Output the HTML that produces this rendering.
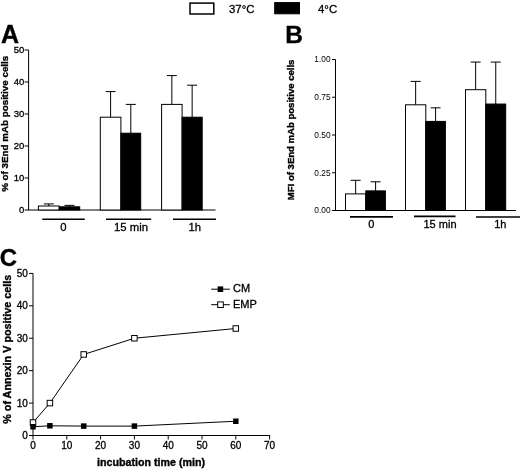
<!DOCTYPE html>
<html><head><meta charset="utf-8"><title>figure</title>
<style>
html,body{margin:0;padding:0;background:#fff;}
body{width:520px;height:469px;overflow:hidden;font-family:"Liberation Sans",sans-serif;}
svg{display:block;filter:blur(0.35px);font-family:"Liberation Sans",sans-serif;}
.b{stroke:#000;stroke-width:0.35px;}
text{fill:#000;}
.m{stroke:#000;stroke-width:0.3px;}
.b{font-weight:bold;}
</style></head><body>
<svg width="520" height="469" viewBox="0 0 520 469">
<rect x="0" y="0" width="520" height="469" fill="#fff"/>

<rect x="190" y="3.1" width="23.8" height="10.9" fill="#fff" stroke="#000" stroke-width="1.5"/>
<text x="229" y="13.3" class="m" font-size="11.4">37°C</text>
<rect x="274.7" y="2.6" width="24.8" height="11.2" fill="#000" stroke="#000" stroke-width="1"/>
<text x="318" y="13.2" class="m" font-size="11.4">4°C</text>
<text class="b" x="1" y="43" font-size="25">A</text>
<text class="b" x="285.2" y="43" font-size="24.5">B</text>
<text class="b" x="-0.3" y="266" font-size="24">C</text>
<line x1="28.6" y1="50.0" x2="28.6" y2="210.0" stroke="#000" stroke-width="1"/>
<line x1="28.1" y1="210.0" x2="215.5" y2="210.0" stroke="#000" stroke-width="1"/>
<line x1="24.6" y1="210.0" x2="28.6" y2="210.0" stroke="#000" stroke-width="1"/>
<text x="24.400000000000002" y="213.3" class="m" font-size="9.5" text-anchor="end">0</text>
<line x1="24.6" y1="178.0" x2="28.6" y2="178.0" stroke="#000" stroke-width="1"/>
<text x="24.400000000000002" y="181.3" class="m" font-size="9.5" text-anchor="end">10</text>
<line x1="24.6" y1="146.0" x2="28.6" y2="146.0" stroke="#000" stroke-width="1"/>
<text x="24.400000000000002" y="149.3" class="m" font-size="9.5" text-anchor="end">20</text>
<line x1="24.6" y1="114.0" x2="28.6" y2="114.0" stroke="#000" stroke-width="1"/>
<text x="24.400000000000002" y="117.3" class="m" font-size="9.5" text-anchor="end">30</text>
<line x1="24.6" y1="82.0" x2="28.6" y2="82.0" stroke="#000" stroke-width="1"/>
<text x="24.400000000000002" y="85.3" class="m" font-size="9.5" text-anchor="end">40</text>
<line x1="24.6" y1="50.0" x2="28.6" y2="50.0" stroke="#000" stroke-width="1"/>
<text x="24.400000000000002" y="53.3" class="m" font-size="9.5" text-anchor="end">50</text>
<text class="b" font-size="9.8" text-anchor="middle" transform="translate(8.2,123.8) rotate(-90)">% of 3End mAb positive cells</text>
<line x1="48.8" y1="203.92" x2="48.8" y2="206.0" stroke="#000" stroke-width="1"/><line x1="43.8" y1="203.92" x2="53.8" y2="203.92" stroke="#000" stroke-width="1"/>
<line x1="69.45" y1="205.36" x2="69.45" y2="206.8" stroke="#000" stroke-width="1"/><line x1="64.45" y1="205.36" x2="74.45" y2="205.36" stroke="#000" stroke-width="1"/>
<rect x="38.4" y="206.0" width="20.800000000000004" height="4.0" fill="#fff" stroke="#000" stroke-width="1"/>
<rect x="59.2" y="206.8" width="20.5" height="3.1999999999999886" fill="#000" stroke="#000" stroke-width="1"/>
<line x1="110.6" y1="91.6" x2="110.6" y2="117.19999999999999" stroke="#000" stroke-width="1"/><line x1="105.6" y1="91.6" x2="115.6" y2="91.6" stroke="#000" stroke-width="1"/>
<line x1="130.8" y1="104.39999999999999" x2="130.8" y2="133.2" stroke="#000" stroke-width="1"/><line x1="125.80000000000001" y1="104.39999999999999" x2="135.8" y2="104.39999999999999" stroke="#000" stroke-width="1"/>
<rect x="100.3" y="117.19999999999999" width="20.60000000000001" height="92.80000000000001" fill="#fff" stroke="#000" stroke-width="1"/>
<rect x="120.9" y="133.2" width="19.799999999999983" height="76.80000000000001" fill="#000" stroke="#000" stroke-width="1"/>
<line x1="171.85" y1="75.6" x2="171.85" y2="104.39999999999999" stroke="#000" stroke-width="1"/><line x1="166.85" y1="75.6" x2="176.85" y2="75.6" stroke="#000" stroke-width="1"/>
<line x1="192.14999999999998" y1="85.19999999999999" x2="192.14999999999998" y2="117.19999999999999" stroke="#000" stroke-width="1"/><line x1="187.14999999999998" y1="85.19999999999999" x2="197.14999999999998" y2="85.19999999999999" stroke="#000" stroke-width="1"/>
<rect x="161.6" y="104.39999999999999" width="20.5" height="105.60000000000001" fill="#fff" stroke="#000" stroke-width="1"/>
<rect x="182.1" y="117.19999999999999" width="20.099999999999994" height="92.80000000000001" fill="#000" stroke="#000" stroke-width="1"/>
<line x1="42.3" y1="219.2" x2="84.8" y2="219.2" stroke="#000" stroke-width="1.6"/>
<text x="63.3" y="231" class="m" font-size="11.3" text-anchor="middle">0</text>
<line x1="106" y1="219.2" x2="151.2" y2="219.2" stroke="#000" stroke-width="1.6"/>
<text x="131" y="231" class="m" font-size="11.3" text-anchor="middle">15 min</text>
<line x1="173" y1="219.2" x2="216" y2="219.2" stroke="#000" stroke-width="1.6"/>
<text x="194.7" y="231" class="m" font-size="11.3" text-anchor="middle">1h</text>
<line x1="335.5" y1="59.5" x2="335.5" y2="210.5" stroke="#000" stroke-width="1"/>
<line x1="335.0" y1="210.5" x2="516" y2="210.5" stroke="#000" stroke-width="1"/>
<line x1="332.0" y1="210.5" x2="335.5" y2="210.5" stroke="#000" stroke-width="1"/>
<text x="330.5" y="213.4" font-size="8.3" text-anchor="end">0.00</text>
<line x1="332.0" y1="172.75" x2="335.5" y2="172.75" stroke="#000" stroke-width="1"/>
<text x="330.5" y="175.65" font-size="8.3" text-anchor="end">0.25</text>
<line x1="332.0" y1="135.0" x2="335.5" y2="135.0" stroke="#000" stroke-width="1"/>
<text x="330.5" y="137.9" font-size="8.3" text-anchor="end">0.50</text>
<line x1="332.0" y1="97.25" x2="335.5" y2="97.25" stroke="#000" stroke-width="1"/>
<text x="330.5" y="100.15" font-size="8.3" text-anchor="end">0.75</text>
<line x1="332.0" y1="59.5" x2="335.5" y2="59.5" stroke="#000" stroke-width="1"/>
<text x="330.5" y="62.4" font-size="8.3" text-anchor="end">1.00</text>
<text class="b" font-size="9.55" text-anchor="middle" transform="translate(294.2,129.9) rotate(-90)">MFI of 3End mAb positive cells</text>
<line x1="355.65" y1="180.3" x2="355.65" y2="193.89" stroke="#000" stroke-width="1"/><line x1="350.65" y1="180.3" x2="360.65" y2="180.3" stroke="#000" stroke-width="1"/>
<line x1="375.6" y1="181.81" x2="375.6" y2="190.87" stroke="#000" stroke-width="1"/><line x1="370.6" y1="181.81" x2="380.6" y2="181.81" stroke="#000" stroke-width="1"/>
<rect x="345.5" y="193.89" width="20.30000000000001" height="16.610000000000014" fill="#fff" stroke="#000" stroke-width="1"/>
<rect x="365.8" y="190.87" width="19.599999999999966" height="19.629999999999995" fill="#000" stroke="#000" stroke-width="1"/>
<line x1="415.65" y1="81.39500000000001" x2="415.65" y2="104.80000000000001" stroke="#000" stroke-width="1"/><line x1="410.65" y1="81.39500000000001" x2="420.65" y2="81.39500000000001" stroke="#000" stroke-width="1"/>
<line x1="435.6" y1="107.82" x2="435.6" y2="121.41000000000001" stroke="#000" stroke-width="1"/><line x1="430.6" y1="107.82" x2="440.6" y2="107.82" stroke="#000" stroke-width="1"/>
<rect x="405.5" y="104.80000000000001" width="20.30000000000001" height="105.69999999999999" fill="#fff" stroke="#000" stroke-width="1"/>
<rect x="425.8" y="121.41000000000001" width="19.599999999999966" height="89.08999999999999" fill="#000" stroke="#000" stroke-width="1"/>
<line x1="475.65" y1="62.06700000000001" x2="475.65" y2="89.69999999999999" stroke="#000" stroke-width="1"/><line x1="470.65" y1="62.06700000000001" x2="480.65" y2="62.06700000000001" stroke="#000" stroke-width="1"/>
<line x1="495.75" y1="62.06700000000001" x2="495.75" y2="104.045" stroke="#000" stroke-width="1"/><line x1="490.75" y1="62.06700000000001" x2="500.75" y2="62.06700000000001" stroke="#000" stroke-width="1"/>
<rect x="465.5" y="89.69999999999999" width="20.30000000000001" height="120.80000000000001" fill="#fff" stroke="#000" stroke-width="1"/>
<rect x="485.8" y="104.045" width="19.899999999999977" height="106.455" fill="#000" stroke="#000" stroke-width="1"/>
<line x1="350" y1="216.9" x2="393" y2="216.9" stroke="#000" stroke-width="1.6"/>
<text x="371.3" y="228.2" class="m" font-size="11" text-anchor="middle">0</text>
<line x1="414" y1="216.4" x2="455.5" y2="216.4" stroke="#000" stroke-width="1.6"/>
<text x="440" y="228" class="m" font-size="11" text-anchor="middle">15 min</text>
<line x1="476" y1="217.0" x2="520" y2="217.0" stroke="#000" stroke-width="1.6"/>
<text x="500.3" y="227.9" class="m" font-size="11" text-anchor="middle">1h</text>
<line x1="33.0" y1="273.4" x2="33.0" y2="435.5" stroke="#000" stroke-width="1"/>
<line x1="32.5" y1="435.5" x2="270.1" y2="435.5" stroke="#000" stroke-width="1"/>
<line x1="29.0" y1="435.5" x2="33.0" y2="435.5" stroke="#000" stroke-width="1"/>
<text x="27.8" y="439.1" class="m" font-size="10" text-anchor="end">0</text>
<line x1="29.0" y1="403.08" x2="33.0" y2="403.08" stroke="#000" stroke-width="1"/>
<text x="27.8" y="406.68" class="m" font-size="10" text-anchor="end">10</text>
<line x1="29.0" y1="370.65999999999997" x2="33.0" y2="370.65999999999997" stroke="#000" stroke-width="1"/>
<text x="27.8" y="374.26" class="m" font-size="10" text-anchor="end">20</text>
<line x1="29.0" y1="338.24" x2="33.0" y2="338.24" stroke="#000" stroke-width="1"/>
<text x="27.8" y="341.84000000000003" class="m" font-size="10" text-anchor="end">30</text>
<line x1="29.0" y1="305.82" x2="33.0" y2="305.82" stroke="#000" stroke-width="1"/>
<text x="27.8" y="309.42" class="m" font-size="10" text-anchor="end">40</text>
<line x1="29.0" y1="273.4" x2="33.0" y2="273.4" stroke="#000" stroke-width="1"/>
<text x="27.8" y="277.0" class="m" font-size="10" text-anchor="end">50</text>
<line x1="33.0" y1="435.5" x2="33.0" y2="439.5" stroke="#000" stroke-width="1"/>
<text x="33.0" y="449.2" class="m" font-size="10" text-anchor="middle">0</text>
<line x1="66.8" y1="435.5" x2="66.8" y2="439.5" stroke="#000" stroke-width="1"/>
<text x="66.8" y="449.2" class="m" font-size="10" text-anchor="middle">10</text>
<line x1="100.6" y1="435.5" x2="100.6" y2="439.5" stroke="#000" stroke-width="1"/>
<text x="100.6" y="449.2" class="m" font-size="10" text-anchor="middle">20</text>
<line x1="134.39999999999998" y1="435.5" x2="134.39999999999998" y2="439.5" stroke="#000" stroke-width="1"/>
<text x="134.39999999999998" y="449.2" class="m" font-size="10" text-anchor="middle">30</text>
<line x1="168.2" y1="435.5" x2="168.2" y2="439.5" stroke="#000" stroke-width="1"/>
<text x="168.2" y="449.2" class="m" font-size="10" text-anchor="middle">40</text>
<line x1="202.0" y1="435.5" x2="202.0" y2="439.5" stroke="#000" stroke-width="1"/>
<text x="202.0" y="449.2" class="m" font-size="10" text-anchor="middle">50</text>
<line x1="235.79999999999998" y1="435.5" x2="235.79999999999998" y2="439.5" stroke="#000" stroke-width="1"/>
<text x="235.79999999999998" y="449.2" class="m" font-size="10" text-anchor="middle">60</text>
<line x1="269.6" y1="435.5" x2="269.6" y2="439.5" stroke="#000" stroke-width="1"/>
<text x="269.6" y="449.2" class="m" font-size="10" text-anchor="middle">70</text>
<text class="b" font-size="10.8" text-anchor="middle" transform="translate(10.8,349.3) rotate(-90)">% of Annexin V positive cells</text>
<text class="b" font-size="10.7" x="97" y="465.5">incubation time (min)</text>
<polyline points="33.00,422.53 49.90,403.08 83.70,354.45 134.40,338.24 235.80,328.51" fill="none" stroke="#000" stroke-width="1"/>
<polyline points="33.00,426.75 49.90,425.77 83.70,426.10 134.40,426.10 235.80,421.24" fill="none" stroke="#000" stroke-width="1"/>
<rect x="30.25" y="419.78" width="5.5" height="5.5" fill="#fff" stroke="#000" stroke-width="1"/>
<rect x="47.15" y="400.33" width="5.5" height="5.5" fill="#fff" stroke="#000" stroke-width="1"/>
<rect x="80.95" y="351.70" width="5.5" height="5.5" fill="#fff" stroke="#000" stroke-width="1"/>
<rect x="131.65" y="335.49" width="5.5" height="5.5" fill="#fff" stroke="#000" stroke-width="1"/>
<rect x="233.05" y="325.76" width="5.5" height="5.5" fill="#fff" stroke="#000" stroke-width="1"/>
<rect x="30.25" y="424.00" width="5.5" height="5.5" fill="#000"/>
<rect x="47.15" y="423.02" width="5.5" height="5.5" fill="#000"/>
<rect x="80.95" y="423.35" width="5.5" height="5.5" fill="#000"/>
<rect x="131.65" y="423.35" width="5.5" height="5.5" fill="#000"/>
<rect x="233.05" y="418.49" width="5.5" height="5.5" fill="#000"/>
<line x1="211.2" y1="289.2" x2="229.8" y2="289.2" stroke="#000" stroke-width="1"/>
<rect x="217.6" y="286.4" width="5.6" height="5.6" fill="#000"/>
<text x="233" y="292.1" class="m" font-size="11">CM</text>
<line x1="211.2" y1="304.7" x2="229.8" y2="304.7" stroke="#000" stroke-width="1"/>
<rect x="217.7" y="301.9" width="5.6" height="5.6" fill="#fff" stroke="#000" stroke-width="1"/>
<text x="233" y="307.8" class="m" font-size="11">EMP</text>
</svg></body></html>
